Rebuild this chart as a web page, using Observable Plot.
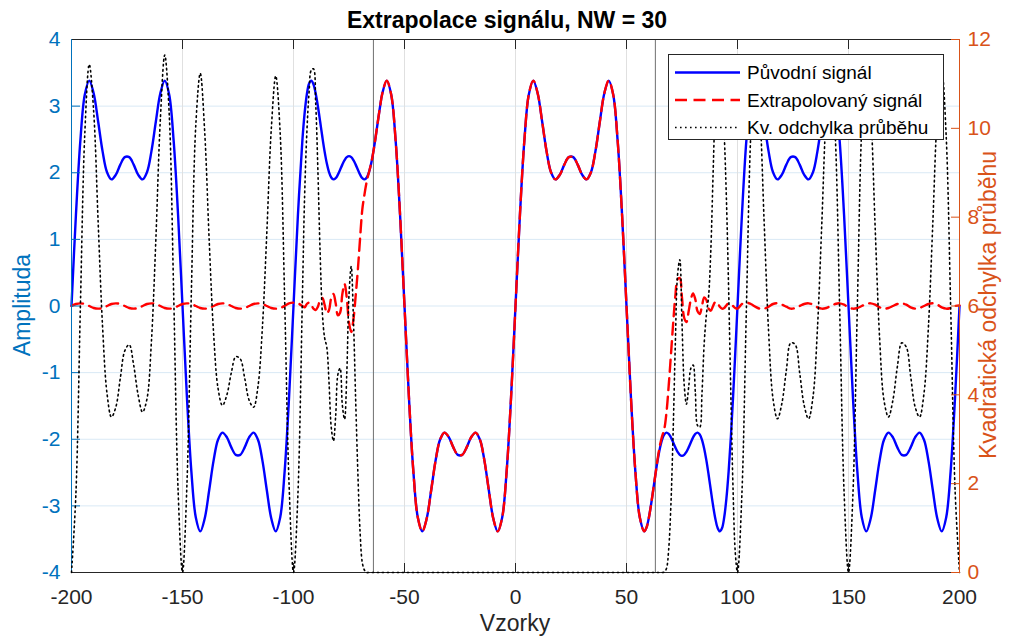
<!DOCTYPE html>
<html><head><meta charset="utf-8">
<script src="https://cdn.jsdelivr.net/npm/d3@7"></script>
<script src="https://cdn.jsdelivr.net/npm/@observablehq/plot@0.6"></script>
<style>
html,body{margin:0;padding:0;background:#fff;}
#wrap{position:relative;width:1033px;height:643px;overflow:hidden;background:#fff;font-family:"Liberation Sans",Arial,Helvetica,sans-serif;}
.lbl{position:absolute;white-space:nowrap;line-height:1;}
</style></head>
<body><div id="wrap"></div>
<script>
// ---------------- data ----------------
const titleText = "Extrapolace signálu, NW = 30";
const xLabel = "Vzorky";
const yLabelLeft = "Amplituda";
const yLabelRight = "Kvadratická odchylka průběhu";
const legendLabels = ["Původní signál", "Extrapolovaný signál", "Kv. odchylka průběhu"];

const xDomain = [-200, 200];
const ampDomain = [-4, 4];
const devDomain = [0, 12];
const xTicks = [-200, -150, -100, -50, 0, 50, 100, 150, 200];
const xGrid = [-150, -100, -50, 0, 50, 100, 150];
const ampTicks = [-4, -3, -2, -1, 0, 1, 2, 3, 4];
const devTicks = [0, 2, 4, 6, 8, 10, 12];
const knownBounds = [-64, 63];

const sampleX = [
 -200,-198,-196,-194,-192,-190,-188,-186,-184,-182,-180,-178,-176,-174,-172,-170,-168,-166,-164,-162,-160,-158,-156,-154,-152,-150,-148,-146,-144,-142,-140,-138,-136,-134,-132,-130,-128,-126,-124,-122,-120,-118,-116,-114,-112,-110,-108,-106,-104,-102,-100,-98,-96,
 -95,-94,-93,-92,-91,-90,-89,-88,-87,-86,-85,-84,-83,-82,-81,-80,-79,-78,-77,-76,-75,-74,-73,-72,-71,-70,-69,-68,-67,-66,-65,-64,-63,-62,-61,-60,
 -58,-56,-54,-52,-50,-48,-46,-44,-42,-40,-38,-36,-34,-32,-30,-28,-26,-24,-22,-20,-18,-16,-14,-12,-10,-8,-6,-4,-2,0,2,4,6,8,10,12,14,16,18,20,22,24,26,28,30,32,34,36,38,40,42,44,46,48,50,52,54,56,58,
 59,60,61,62,63,64,65,66,67,68,69,70,71,72,73,74,75,76,77,78,79,80,81,82,83,84,85,86,87,88,89,90,91,92,93,94,95,96,97,98,99,100,
 102,104,106,108,110,112,114,116,118,120,122,124,126,128,130,132,134,136,138,140,142,144,146,148,150,152,154,156,158,160,162,164,166,168,170,172,174,176,178,180,182,184,186,188,190,192,194,196,198,200
];

const original = [
 0,1.369,2.486,3.175,3.383,3.190,2.769,2.321,2.008,1.900,1.971,2.122,2.234,2.234,2.122,1.971,1.900,2.008,2.321,2.769,3.190,3.383,3.175,2.486,1.369,0,-1.369,-2.486,-3.175,-3.383,-3.190,-2.769,-2.321,-2.008,-1.900,-1.971,-2.122,-2.234,-2.234,-2.122,-1.971,-1.900,-2.008,-2.321,-2.769,-3.190,-3.383,-3.175,-2.486,-1.369,0,1.369,2.486,
 2.891,3.175,3.337,3.383,3.327,3.190,2.995,2.769,2.536,2.321,2.141,2.008,1.928,1.900,1.918,1.971,2.044,2.122,2.188,2.234,2.250,2.234,2.188,2.122,2.044,1.971,1.918,1.900,1.928,2.008,2.141,2.321,2.536,2.769,2.995,3.190,
 3.383,3.175,2.486,1.369,0,-1.369,-2.486,-3.175,-3.383,-3.190,-2.769,-2.321,-2.008,-1.900,-1.971,-2.122,-2.234,-2.234,-2.122,-1.971,-1.900,-2.008,-2.321,-2.769,-3.190,-3.383,-3.175,-2.486,-1.369,0,1.369,2.486,3.175,3.383,3.190,2.769,2.321,2.008,1.900,1.971,2.122,2.234,2.234,2.122,1.971,1.900,2.008,2.321,2.769,3.190,3.383,3.175,2.486,1.369,0,-1.369,-2.486,-3.175,-3.383,
 -3.327,-3.190,-2.995,-2.769,-2.536,-2.321,-2.141,-2.008,-1.928,-1.900,-1.918,-1.971,-2.044,-2.122,-2.188,-2.234,-2.250,-2.234,-2.188,-2.122,-2.044,-1.971,-1.918,-1.900,-1.928,-2.008,-2.141,-2.321,-2.536,-2.769,-2.995,-3.190,-3.327,-3.383,-3.337,-3.175,-2.891,-2.486,-1.973,-1.369,-0.701,0,
 1.369,2.486,3.175,3.383,3.190,2.769,2.321,2.008,1.900,1.971,2.122,2.234,2.234,2.122,1.971,1.900,2.008,2.321,2.769,3.190,3.383,3.175,2.486,1.369,0,-1.369,-2.486,-3.175,-3.383,-3.190,-2.769,-2.321,-2.008,-1.900,-1.971,-2.122,-2.234,-2.234,-2.122,-1.971,-1.900,-2.008,-2.321,-2.769,-3.190,-3.383,-3.175,-2.486,-1.369,0
];

const extrapolated = [
 0,0.03,0.04,0.03,0,-0.03,-0.04,-0.03,0,0.03,0.04,0.03,0,-0.03,-0.04,-0.03,0,0.03,0.04,0.03,0,-0.03,-0.04,-0.03,0,0.03,0.04,0.03,0,-0.03,-0.04,-0.03,0,0.03,0.04,0.03,0,-0.03,-0.04,-0.03,0,0.03,0.04,0.03,0,-0.03,-0.04,-0.03,0,0.04,0.05,0.04,0,
 -0.02,0.03,0.05,0.02,-0.04,-0.06,-0.01,0.09,0.12,0.02,-0.11,-0.06,0.12,0.18,0.04,-0.14,-0.10,0.18,0.33,0.12,-0.25,-0.39,-0.20,0.15,0.55,1.02,1.45,1.68,1.87,2.008,2.141,2.321,2.536,2.769,2.995,3.190,
 3.383,3.175,2.486,1.369,0,-1.369,-2.486,-3.175,-3.383,-3.190,-2.769,-2.321,-2.008,-1.900,-1.971,-2.122,-2.234,-2.234,-2.122,-1.971,-1.900,-2.008,-2.321,-2.769,-3.190,-3.383,-3.175,-2.486,-1.369,0,1.369,2.486,3.175,3.383,3.190,2.769,2.321,2.008,1.900,1.971,2.122,2.234,2.234,2.122,1.971,1.900,2.008,2.321,2.769,3.190,3.383,3.175,2.486,1.369,0,-1.369,-2.486,-3.175,-3.383,
 -3.327,-3.190,-2.995,-2.769,-2.536,-2.30,-2.10,-1.96,-1.85,-1.60,-1.20,-0.74,-0.27,0.15,0.40,0.42,0.12,-0.18,-0.24,-0.08,0.10,0.19,0.10,-0.08,-0.12,0,0.13,0.09,-0.04,-0.07,0,0.06,0.05,-0.01,-0.04,-0.03,0.01,0.04,0.03,0,-0.03,-0.04,
 0.03,0.05,0.03,-0.01,-0.04,-0.04,-0.01,0.03,0.04,0.02,-0.01,-0.04,-0.03,0,0.03,0.04,0.02,-0.02,-0.04,-0.03,0,0.03,0.04,0.02,-0.02,-0.04,-0.03,0,0.03,0.04,0.02,-0.02,-0.04,-0.03,0,0.03,0.04,0.02,-0.02,-0.04,-0.03,0,0.03,0.04,0.02,-0.02,-0.04,-0.03,0,0.01
];

const deviation = [
 0,1.79,5.98,9.89,11.44,10.37,7.89,5.53,4.03,3.50,3.73,4.38,4.99,5.13,4.67,4.00,3.61,3.91,5.20,7.50,10.18,11.65,10.34,6.33,1.87,0,1.99,6.33,10.08,11.24,9.92,7.50,5.39,4.15,3.76,4.00,4.50,4.86,4.81,4.38,3.88,3.72,4.19,5.53,7.67,9.99,11.18,9.89,6.18,1.99,0,1.77,6.18,
 8.47,9.89,10.80,11.31,11.34,10.56,9.03,7.18,5.84,5.29,5.07,4.28,3.27,2.96,3.53,4.46,4.60,3.77,3.45,4.47,6.25,6.89,5.70,3.89,2.23,0.90,0.22,0.05,0,0,0,0,0,0,0,0,
 0,0,0,0,0,0,0,0,0,0,0,0,0,0,0,0,0,0,0,0,0,0,0,0,0,0,0,0,0,0,0,0,0,0,0,0,0,0,0,0,0,0,0,0,0,0,0,0,0,0,0,0,0,0,0,0,0,0,0,
 0,0,0,0,0,0,0,0,0.01,0.09,0.52,1.52,3.15,5.16,6.70,7.04,5.62,4.22,3.79,4.17,4.60,4.67,4.07,3.31,3.27,4.03,5.16,5.81,6.23,7.28,8.97,10.56,11.40,11.38,10.87,9.89,8.42,6.38,4.01,1.87,0.45,0,
 1.79,5.93,9.89,11.51,10.43,7.89,5.43,3.91,3.46,3.81,4.55,5.17,5.13,4.50,3.77,3.46,3.95,5.48,7.89,10.37,11.44,9.89,5.98,1.82,0,1.77,6.03,10.08,11.65,10.43,7.78,5.29,3.87,3.50,3.88,4.63,5.17,5.08,4.42,3.73,3.50,4.03,5.53,7.89,10.30,11.31,9.83,6.03,1.87,0
];

// ---------------- style ----------------
const BLUE_AX = "#0072BD", ORANGE_AX = "#D95319", DARK = "#262626";
const SIG_BLUE = "#0000ff", SIG_RED = "#ff0000";
const DOT = "1.6,3.4";
const W = 1033, H = 643;
const margins = {marginTop: 39, marginRight: 74, marginBottom: 71, marginLeft: 71};
const FONT = '"Liberation Sans", Arial, Helvetica, sans-serif';
const baseStyle = {position: "absolute", left: "0px", top: "0px", background: "transparent",
  fontFamily: FONT, fontSize: "21px", overflow: "visible", maxWidth: "none"};

const rows = sampleX.map((x, i) => ({x, orig: original[i], extr: extrapolated[i], dev: deviation[i]}));
const fmt = d => String(d);

const leftPlot = Plot.plot({
  width: W, height: H, ...margins, style: baseStyle,
  x: {domain: xDomain}, y: {domain: ampDomain},
  marks: [
    Plot.ruleY(ampTicks, {stroke: "#d9e9f5", strokeWidth: 1}),
    Plot.ruleX(xGrid, {stroke: "#e0e0e0", strokeWidth: 1}),
    Plot.ruleX(knownBounds, {stroke: "#707070", strokeWidth: 1}),
    Plot.line(rows, {x: "x", y: "orig", stroke: SIG_BLUE, strokeWidth: 2.4, curve: "catmull-rom"}),
    Plot.line(rows, {x: "x", y: "extr", stroke: SIG_RED, strokeWidth: 2.4, strokeDasharray: "12,6.5", curve: "catmull-rom"}),
    Plot.axisX({anchor: "bottom", ticks: xTicks, tickSize: -9, tickPadding: 25.6, tickFormat: fmt, color: DARK, label: null}),
    Plot.axisX({anchor: "top", ticks: xTicks, tickSize: -9, tickFormat: () => "", color: DARK, label: null}),
    Plot.axisY({anchor: "left", ticks: ampTicks, tickSize: -9, tickPadding: 20, tickFormat: fmt, color: BLUE_AX, label: null}),
    Plot.ruleY([ampDomain[0]], {stroke: DARK, strokeWidth: 1}),
    Plot.ruleY([ampDomain[1]], {stroke: DARK, strokeWidth: 1}),
    Plot.ruleX([xDomain[0]], {stroke: BLUE_AX, strokeWidth: 1})
  ]
});

const rightPlot = Plot.plot({
  width: W, height: H, ...margins, style: baseStyle,
  x: {domain: xDomain, axis: null}, y: {domain: devDomain},
  marks: [
    Plot.line(rows, {x: "x", y: "dev", stroke: "#000", strokeWidth: 1.6, strokeDasharray: DOT, curve: "catmull-rom"}),
    Plot.axisY({anchor: "right", ticks: devTicks, tickSize: -9, tickPadding: 17, tickFormat: fmt, color: ORANGE_AX, label: null}),
    Plot.ruleX([xDomain[1]], {stroke: ORANGE_AX, strokeWidth: 1})
  ]
});

const wrap = document.getElementById("wrap");
wrap.appendChild(leftPlot);
wrap.appendChild(rightPlot);

function addLabel(text, css) {
  const d = document.createElement("div");
  d.className = "lbl";
  d.textContent = text;
  Object.assign(d.style, css);
  wrap.appendChild(d);
  return d;
}
addLabel(titleText, {left: "507px", top: "9px", fontSize: "23px", fontWeight: "bold", color: "#000", transform: "translateX(-50%)"});
addLabel(xLabel, {left: "515px", top: "612px", fontSize: "23px", color: DARK, transform: "translateX(-50%)"});
addLabel(yLabelLeft, {left: "22px", top: "305px", fontSize: "23px", color: BLUE_AX, transform: "translate(-50%,-50%) rotate(-90deg)"});
addLabel(yLabelRight, {left: "988px", top: "305px", fontSize: "23px", color: ORANGE_AX, transform: "translate(-50%,-50%) rotate(-90deg)"});

// legend
const legStyles = [
  {stroke: SIG_BLUE, dash: null, width: 2.4},
  {stroke: SIG_RED, dash: "12,6.5", width: 2.4},
  {stroke: "#000", dash: DOT, width: 1.6}
];
const lw = 276, lh = 86;
const ns = "http://www.w3.org/2000/svg";
const leg = document.createElementNS(ns, "svg");
leg.setAttribute("width", lw); leg.setAttribute("height", lh);
leg.style.position = "absolute"; leg.style.left = "668px"; leg.style.top = "54px";
const rect = document.createElementNS(ns, "rect");
rect.setAttribute("x", 0.5); rect.setAttribute("y", 0.5);
rect.setAttribute("width", lw - 1); rect.setAttribute("height", lh - 1);
rect.setAttribute("fill", "#fff"); rect.setAttribute("stroke", DARK); rect.setAttribute("stroke-width", 1);
leg.appendChild(rect);
legendLabels.forEach((lab, i) => {
  const cy = 18.5 + i * 27.5;
  const ln = document.createElementNS(ns, "line");
  ln.setAttribute("x1", 7); ln.setAttribute("x2", 72); ln.setAttribute("y1", cy); ln.setAttribute("y2", cy);
  ln.setAttribute("stroke", legStyles[i].stroke); ln.setAttribute("stroke-width", legStyles[i].width);
  if (legStyles[i].dash) ln.setAttribute("stroke-dasharray", legStyles[i].dash);
  leg.appendChild(ln);
  const t = document.createElementNS(ns, "text");
  t.setAttribute("x", 79); t.setAttribute("y", cy + 6.8);
  t.setAttribute("font-size", "19px"); t.setAttribute("font-family", FONT); t.setAttribute("fill", "#000");
  t.textContent = lab;
  leg.appendChild(t);
});
wrap.appendChild(leg);
</script></body></html>
